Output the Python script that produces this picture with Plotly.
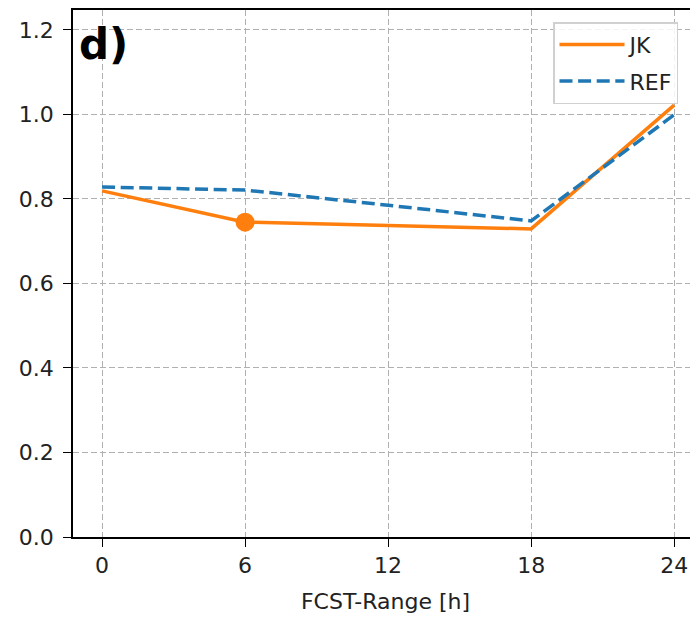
import plotly.graph_objects as go

fcst_hours = [0, 6, 12, 18, 24]
jk_values = [0.819, 0.745, 0.737, 0.729, 1.022]
ref_values = [0.828, 0.821, 0.785, 0.748, 0.999]
marked_hours = [6]
marked_values = [0.745]
x_ticks = [0, 6, 12, 18, 24]
y_ticks = [0.0, 0.2, 0.4, 0.6, 0.8, 1.0, 1.2]

ORANGE = "#ff7f0e"
BLUE = "#1f77b4"
FONT = "DejaVu Sans"
FS = 22

fig = go.Figure()
fig.add_trace(go.Scatter(x=fcst_hours, y=jk_values, mode="lines", name="JK", legendgroup="a",
                         line=dict(color=ORANGE, width=3.5)))
fig.add_trace(go.Scatter(x=fcst_hours, y=ref_values, mode="lines", name="REF", legendgroup="b",
                         line=dict(color=BLUE, width=3.5, dash="13px,5.6px")))
fig.add_trace(go.Scatter(x=marked_hours, y=marked_values, mode="markers", showlegend=False,
                         marker=dict(color=ORANGE, size=19)))

grid = dict(showgrid=True, gridcolor="#b0b0b0", griddash="6px,3px", gridwidth=1.2)

fig.update_layout(
    width=690, height=609,
    margin=dict(l=65, r=0, t=2, b=80, autoexpand=False),
    plot_bgcolor="white", paper_bgcolor="white",
    font=dict(family=FONT, size=FS, color="#222222"),
    showlegend=True,
    legend=dict(x=0.768, y=0.977, xanchor="left", yanchor="top",
                bgcolor="rgba(255,255,255,0.85)", bordercolor="#d0d0d0", borderwidth=1.5,
                itemwidth=65, tracegroupgap=5,
                font=dict(family=FONT, size=FS, color="#222222")),
    xaxis=dict(range=[-1.22, 25.0], tickmode="array", tickvals=x_ticks,
               ticktext=[str(v) for v in x_ticks], automargin=False,
               showline=True, linecolor="black", linewidth=1.6, mirror=True,
               ticks="outside", ticklen=8, tickcolor="black", tickwidth=1.4,
               ticklabelstandoff=0,
               zeroline=False,
               title=dict(text="FCST-Range [h]", font=dict(family=FONT, size=FS), standoff=16),
               **grid),
    yaxis=dict(range=[0, 1.247], tickmode="array", tickvals=y_ticks,
               ticktext=[f"{v:.1f}" for v in y_ticks], automargin=False,
               showline=True, linecolor="black", linewidth=1.6, mirror=False,
               ticks="outside", ticklen=8, tickcolor="black", tickwidth=1.4,
               ticklabelstandoff=5,
               zeroline=False,
               **grid),
)
fig.add_annotation(text="<b>d)</b>", x=0.006, y=0.985, xref="paper", yref="paper",
                   xanchor="left", yanchor="top", showarrow=False,
                   font=dict(family=FONT, size=42, color="black"))

fig.write_html("out.html")
